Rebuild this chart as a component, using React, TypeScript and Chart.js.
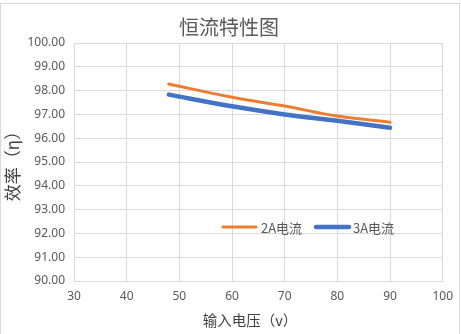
import React, { useEffect, useRef } from "react";
import { Chart, registerables } from "chart.js";

Chart.register(...registerables);

const voltages = [48, 60, 70, 80, 90];
const eff2A = [98.28, 97.72, 97.35, 96.93, 96.67];
const eff3A = [97.83, 97.34, 97.0, 96.73, 96.44];
const seriesNames = ["2A电流", "3A电流"];
const seriesColors = ["#ED7D31", "#4472C4"];
const seriesWidths = [3, 4.5];
const chartTitle = "恒流特性图";
const xTitle = "输入电压（v）";
const yTitle = "效率（η）";

const textColor = "#595959";
const gridColor = "#d9d9d9";

const decorPlugin = {
  id: "decor",
  beforeDraw(chart: any) {
    const { ctx, width, height } = chart;
    ctx.save();
    ctx.fillStyle = "#ffffff";
    ctx.fillRect(0, 0, width, height);
    ctx.strokeStyle = gridColor;
    ctx.lineWidth = 1;
    ctx.strokeRect(0.5, 3.5, 459, height + 10);
    ctx.restore();
  },
  afterDraw(chart: any) {
    const { ctx } = chart;
    ctx.save();
    // title
    ctx.fillStyle = textColor;
    ctx.textAlign = "center";
    ctx.textBaseline = "middle";
    ctx.font = '20px "Noto Sans CJK SC"';
    ctx.fillText(chartTitle, 229, 27);
    // x title
    ctx.font = '14.5px "Noto Sans CJK SC"';
    ctx.fillStyle = "#404040";
    ctx.fillText(xTitle, 250, 320);
    // y title
    ctx.save();
    ctx.translate(13, 162);
    ctx.rotate(-Math.PI / 2);
    ctx.font = '17px "Noto Sans CJK SC"';
    ctx.fillText(yTitle, 0, 0);
    ctx.restore();
    // legend
    const items = [
      { x1: 223, x2: 256, tx: 261 },
      { x1: 316, x2: 349, tx: 353 },
    ];
    const ly = 227;
    ctx.font = '13px "Noto Sans CJK SC"';
    ctx.textAlign = "left";
    items.forEach((it, i) => {
      ctx.strokeStyle = seriesColors[i];
      ctx.lineWidth = seriesWidths[i];
      ctx.lineCap = "round";
      ctx.beginPath();
      ctx.moveTo(it.x1, ly);
      ctx.lineTo(it.x2, ly);
      ctx.stroke();
      ctx.fillStyle = textColor;
      ctx.fillText(seriesNames[i], it.tx, ly + 1);
    });
    ctx.restore();
  },
};

export default function App() {
  const ref = useRef<HTMLCanvasElement>(null);
  useEffect(() => {
    if (!ref.current) return;
    const datasets = [eff2A, eff3A].map((vals, i) => ({
      label: seriesNames[i],
      data: voltages.map((v, j) => ({ x: v, y: vals[j] })),
      borderColor: seriesColors[i],
      backgroundColor: seriesColors[i],
      borderWidth: seriesWidths[i],
      pointRadius: 0,
      tension: 0.35,
      borderCapStyle: "round" as const,
      fill: false,
    }));
    const chart = new Chart(ref.current, {
      type: "line",
      data: { datasets: [...datasets].reverse() },
      options: {
        animation: false,
        responsive: false,
        layout: { padding: { left: 0, right: 16, top: 43, bottom: 0 } },
        plugins: { legend: { display: false }, title: { display: false }, tooltip: { enabled: false } },
        scales: {
          x: {
            type: "linear",
            min: 30,
            max: 100,
            ticks: { stepSize: 10, color: textColor, font: { family: "Noto Sans", size: 12 }, padding: 8, maxRotation: 0 },
            grid: { color: gridColor, drawTicks: false },
            border: { color: gridColor },
            afterFit: (s: any) => { s.height = 53; },
          },
          y: {
            min: 90,
            max: 100,
            ticks: {
              stepSize: 1,
              color: textColor,
              font: { family: "Noto Sans", size: 12 },
              padding: 9,
              callback: (v: any) => Number(v).toFixed(2),
            },
            grid: { color: gridColor, drawTicks: false },
            border: { color: gridColor },
            afterFit: (s: any) => { s.width = 74; },
          },
        },
      },
      plugins: [decorPlugin],
    });
    return () => chart.destroy();
  }, []);
  return (
    <div style={{ position: "absolute", left: 0, top: 0, width: 461, height: 334 }}>
      <canvas ref={ref} width={461} height={334} style={{ width: 461, height: 334 }} />
    </div>
  );
}
